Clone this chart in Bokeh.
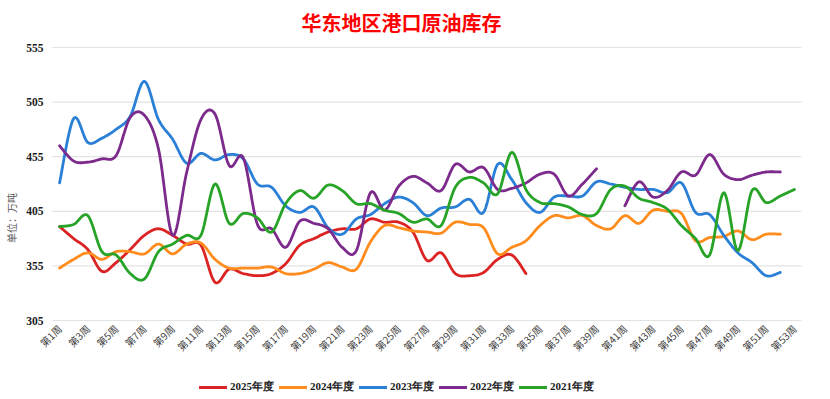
import math
import numpy as np
from bokeh.plotting import figure
from bokeh.models import Range1d, FixedTicker, Legend, LegendItem
from bokeh.embed import file_html
from bokeh.resources import INLINE

# ---------------- data ----------------
weeks = list(range(1, 54))
tick_weeks = list(range(1, 54, 2))
tick_labels = [f"第{w}周" for w in tick_weeks]
y_ticks = [305, 355, 405, 455, 505, 555]

series_names = ["2025年度", "2024年度", "2023年度", "2022年度", "2021年度"]

s2025 = [391, 380, 370, 350, 358, 370, 383, 389, 383, 375, 374, 340, 352,
         348, 346, 348, 357, 374, 380, 386, 389, 389, 398, 395, 395, 386,
         360, 367, 348, 346, 349, 361, 365, 348]

s2024 = [353, 361, 367, 361, 368, 368, 366, 375, 366, 375, 376, 361, 353,
         353, 353, 354, 348, 348, 352, 358, 354, 352, 377, 392, 390, 387,
         386, 385, 395, 393, 390, 366, 372, 378, 392, 401, 399, 401, 392,
         389, 401, 394, 406, 405, 403, 378, 381, 382, 387, 379, 384, 384]

s2023 = [431, 490, 468, 472, 480, 492, 524, 489, 471, 449, 458, 452, 457,
         453, 430, 427, 410, 404, 409, 390, 384, 398, 402, 412, 418, 413,
         401, 408, 409, 416, 404, 448, 434, 413, 404, 418, 419, 419, 432,
         430, 427, 425, 425, 422, 431, 404, 402, 383, 367, 358, 346, 349]

s2022 = [465, 451, 450, 453, 456, 491, 493, 462, 383, 441, 489, 494, 447,
         454, 393, 389, 372, 396, 394, 389, 372, 369, 422, 406, 428, 437,
         431, 424, 448, 441, 445, 425, 426, 431, 439, 439, 419, 430, 444,
         None, 410, 432, 418, 424, 441, 438, 457, 439, 434, 438, 441, 441]

s2021 = [391, 393, 401, 368, 365, 348, 343, 368, 375, 383, 383, 430, 394,
         403, 399, 386, 412, 424, 417, 429, 424, 412, 412, 406, 403, 395,
         398, 392, 427, 436, 431, 421, 459, 425, 413, 412, 409, 402, 403,
         425, 428, 417, 413, 407, 392, 380, 365, 422, 369, 424, 413, 419, 425]

series_values = [s2025, s2024, s2023, s2022, s2021]
colors = ["#dc2323", "#ff8c1c", "#2a7fd6", "#7c2a8c", "#27a427"]


def smooth(xs, ys, n=14):
    """Catmull-Rom style cubic smoothing through the given points (NaN gaps kept)."""
    runs, cur = [], []
    for x, y in zip(xs, ys):
        if y is None:
            if cur:
                runs.append(cur)
                cur = []
        else:
            cur.append((x, y))
    if cur:
        runs.append(cur)
    ox, oy = [], []
    for ri, run in enumerate(runs):
        if ri > 0:
            ox.append(float("nan"))
            oy.append(float("nan"))
        pts = np.array(run, dtype=float)
        m = len(pts)
        if m == 1:
            ox.append(pts[0, 0]); oy.append(pts[0, 1])
            continue
        for i in range(m - 1):
            p0 = pts[i - 1] if i > 0 else pts[i]
            p1 = pts[i]
            p2 = pts[i + 1]
            p3 = pts[i + 2] if i + 2 < m else pts[i + 1]
            c1 = p1 + (p2 - p0) / 6.0
            c2 = p2 - (p3 - p1) / 6.0
            t = np.linspace(0, 1, n, endpoint=(i == m - 2))
            b = ((1 - t) ** 3)[:, None] * p1 + (3 * (1 - t) ** 2 * t)[:, None] * c1 \
                + (3 * (1 - t) * t ** 2)[:, None] * c2 + (t ** 3)[:, None] * p2
            ox.extend(b[:, 0].tolist())
            oy.extend(b[:, 1].tolist())
    return ox, oy


# ---- geometry: plot area 305..555 spans 273 px, 53 weeks span 749 px ----
PX_PER_WEEK = 749.0 / 53.0
PX_PER_UNIT = 273.0 / 250.0
FRAME_W = 802          # frame reaches the left edge so axis texts are not clipped
FRAME_H = 353          # frame reaches down to the legend
LEFT_PAD_PX = 52       # frame left edge -> plot-area start
TOP_PAD_PX = 6         # frame top edge -> 555 line
X_START = 0.5 - LEFT_PAD_PX / PX_PER_WEEK
X_END = X_START + FRAME_W / PX_PER_WEEK
Y_TOP = 555 + TOP_PAD_PX / PX_PER_UNIT
Y_BOTTOM = Y_TOP - FRAME_H / PX_PER_UNIT

p = figure(frame_width=FRAME_W, frame_height=FRAME_H,
           x_range=Range1d(X_START, X_END), y_range=Range1d(Y_BOTTOM, Y_TOP),
           output_backend="svg", toolbar_location=None,
           min_border_left=0, min_border_right=12, min_border_top=30,
           min_border_bottom=0,
           background_fill_color="white", border_fill_color="white")
p.outline_line_color = None

# title
p.title.text = "华东地区港口原油库存"
p.title.align = "center"
p.title.offset = 8
p.title.text_color = "#ff0000"
p.title.text_font = "Noto Sans CJK SC"
p.title.text_font_size = "20px"
p.title.text_font_style = "bold"

# x axis (drawn on the 305 line)
p.xaxis.fixed_location = 305
p.xaxis.ticker = FixedTicker(ticks=tick_weeks)
p.xaxis.major_label_overrides = {w: lab for w, lab in zip(tick_weeks, tick_labels)}
p.xaxis.major_label_orientation = math.pi / 4
p.xaxis.major_label_text_font = "Noto Sans CJK SC"
p.xaxis.major_label_text_font_size = "10px"
p.xaxis.major_label_text_color = "#404040"
p.xaxis.axis_line_color = None
p.xaxis.major_tick_line_color = None
p.xaxis.minor_tick_line_color = None
p.xaxis.major_tick_out = 0
p.xaxis.major_tick_in = 0
p.xaxis.minor_tick_out = 0
p.xaxis.major_label_standoff = 6

# y axis (drawn at the plot-area left edge)
p.yaxis.fixed_location = 0.5
p.yaxis.ticker = FixedTicker(ticks=y_ticks)
p.yaxis.major_label_text_font = "Liberation Serif"
p.yaxis.major_label_text_font_style = "bold"
p.yaxis.major_label_text_font_size = "11.5px"
p.yaxis.major_label_text_color = "#1a1a1a"
p.yaxis.axis_line_color = None
p.yaxis.major_tick_line_color = None
p.yaxis.minor_tick_line_color = None
p.yaxis.major_tick_out = 0
p.yaxis.major_tick_in = 0
p.yaxis.minor_tick_out = 0
p.yaxis.major_label_standoff = 9
p.yaxis.axis_label = "单位：万吨"
p.yaxis.axis_label_text_font = "Noto Sans CJK SC"
p.yaxis.axis_label_text_font_size = "10px"
p.yaxis.axis_label_text_font_style = "normal"
p.yaxis.axis_label_text_color = "#595959"
p.yaxis.axis_label_standoff = 4

p.xgrid.grid_line_color = None
p.ygrid.grid_line_color = None

# horizontal grid lines across the plot area only
p.segment(x0=[0.5] * len(y_ticks), x1=[53.5] * len(y_ticks), y0=y_ticks, y1=y_ticks,
          line_color="#e3e3e3", line_width=1.2)

items = []
for name, vals, col in zip(series_names, series_values, colors):
    xs = weeks[:len(vals)]
    sx, sy = smooth(xs, vals)
    r = p.line(sx, sy, line_color=col, line_width=2.8, line_join="round", line_cap="round")
    items.append(LegendItem(label=name, renderers=[r]))

legend = Legend(items=items, orientation="horizontal", location=(199, 0),
                glyph_width=28, glyph_height=8, label_standoff=3, spacing=5,
                padding=0, margin=0, border_line_alpha=0, background_fill_alpha=0,
                label_text_font="Liberation Serif", label_text_font_style="bold",
                label_text_font_size="11px", label_text_color="#1a1a1a",
                label_height=11)
p.add_layout(legend, "center")

open("out.html", "w").write(file_html(p, INLINE))
